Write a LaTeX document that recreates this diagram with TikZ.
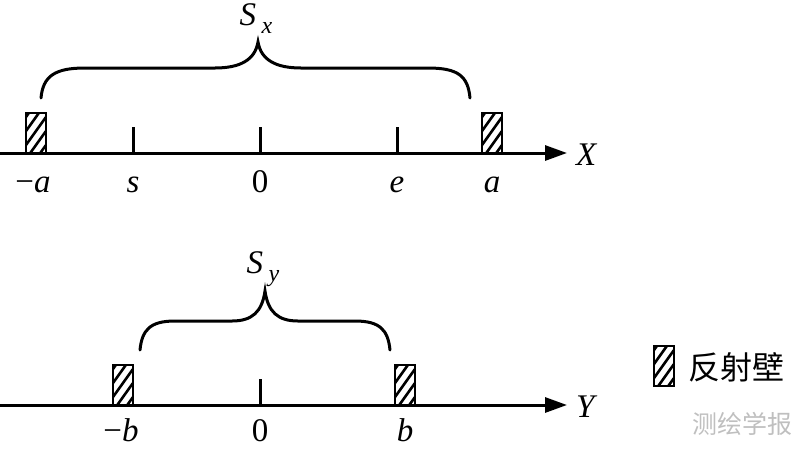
\documentclass[tikz,border=0pt]{standalone}
\usepackage{fontspec}
\setmainfont{Liberation Serif}
\newfontfamily\cjk{Noto Sans CJK SC}
\usetikzlibrary{arrows.meta}
\tikzset{
  axisline/.style={line width=3pt,-{Triangle[length=22pt,width=15pt]}},
  tickline/.style={line width=3pt},
  bracel/.style={line width=3pt,line cap=round},
  lab/.style={inner sep=0pt,anchor=base,font=\fontsize{33}{36}\selectfont},
  wall/.pic={
    \begin{scope}
      \clip (-10,0) rectangle (10,-40);
      \foreach \y in {20,6,-8,-22,-36} \draw[line width=2.6pt] (-10,\y) -- (10,\y-28);
    \end{scope}
    \draw[line width=2.6pt,fill=none] (-10,0) rectangle (10,-40);
  }
}
\begin{document}
\begin{tikzpicture}[x=1pt,y=-1pt]
\useasboundingbox (0,0) rectangle (800,448);
% top axis
\coordinate (xs) at (0,153);
\coordinate (xe) at (567,153);
\draw[axisline] (xs) -- (xe);
\node[lab,anchor=base west] (X) at (576,165) {\textit{X}};
\pic at (36,153) {wall};
\pic at (492,153) {wall};
\foreach \n/\x in {ts/133,t0/260,te/397}{
  \coordinate (\n a) at (\x,127);
  \coordinate (\n b) at (\x,153);
  \draw[tickline] (\n a) -- (\n b);
}
\node[lab] (lma) at (33,192) {−\textit{a}};
\node[lab] (ls) at (133,192) {\textit{s}};
\node[lab] (l0) at (260,192) {0};
\node[lab] (le) at (397,192) {\textit{e}};
\node[lab] (la) at (492,192) {\textit{a}};
% top brace
\draw[bracel] (41,98) .. controls (43,76) and (55,68) .. (85,68) -- (215,68)
  .. controls (240,68) and (255,60) .. (258,42)
  .. controls (261,60) and (276,68) .. (301,68) -- (428,68)
  .. controls (458,68) and (468,76) .. (470,98);
\node[lab] (Sx) at (256,25) {\textit{S}\,\raisebox{-8pt}{\fontsize{24}{26}\selectfont\textit{x}}};
% bottom axis
\coordinate (ys) at (0,405);
\coordinate (ye) at (567,405);
\draw[axisline] (ys) -- (ye);
\node[lab,anchor=base west] (Y) at (576,417) {\textit{Y}};
\pic at (123,405) {wall};
\pic at (405,405) {wall};
\coordinate (u0a) at (260,379);
\coordinate (u0b) at (260,405);
\draw[tickline] (u0a) -- (u0b);
\node[lab] (lmb) at (121,441) {−\textit{b}};
\node[lab] (l0b) at (260,441) {0};
\node[lab] (lb) at (405,441) {\textit{b}};
% bottom brace
\draw[bracel] (140,350) .. controls (142,330) and (150,321) .. (175,321) -- (232,321)
  .. controls (252,321) and (262,312) .. (265,291)
  .. controls (268,312) and (278,321) .. (298,321) -- (355,321)
  .. controls (380,321) and (388,330) .. (390,350);
\node[lab] (Sy) at (263,273) {\textit{S}\,\raisebox{-8pt}{\fontsize{24}{26}\selectfont\textit{y}}};
% legend
\pic at (664,386) {wall};
\node[inner sep=0pt,anchor=west,font=\cjk\fontsize{32}{36}\selectfont] (leg) at (688,367) {反射壁};
% watermark
\node[inner sep=0pt,anchor=west,text=black!25,font=\cjk\fontsize{25}{30}\selectfont] (wm) at (692,424) {测绘学报};
\end{tikzpicture}
\end{document}
